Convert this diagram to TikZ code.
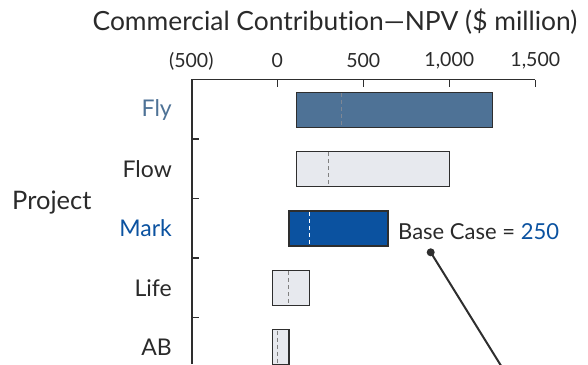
\documentclass[tikz,border=0pt]{standalone}
\usepackage{fontspec}
\setmainfont{Lato}[Ligatures={TeX,NoCommon}]
\usetikzlibrary{calc}
\definecolor{FlyClr}{HTML}{4E7296}
\definecolor{MarkClr}{HTML}{0B52A0}
\definecolor{PaleClr}{HTML}{E7E9EE}
\definecolor{EdgeClr}{HTML}{2E2E2E}
\definecolor{TextClr}{HTML}{2A2A2A}
\definecolor{DashClr}{HTML}{7D8795}

\begin{document}
\begin{tikzpicture}[x=1pt,y=-1pt,
  axisline/.style={line width=1.2pt,color=EdgeClr},
  barbox/.style={draw=EdgeClr,line width=1.2pt},
  midline/.style={line width=1pt,dash pattern=on 4pt off 3pt},
  ticklbl/.style={font=\fontsize{19.5}{19.5}\selectfont,text=TextClr,inner sep=0pt},
  projlbl/.style={font=\fontsize{23}{23}\selectfont,anchor=east,inner sep=0pt}]
\clip (0,0) rectangle (588,364);

% title
\node[font=\fontsize{26.4}{26.4}\selectfont,text=TextClr,inner sep=0pt] (title) at (335,22)
  {Commercial Contribution---NPV (\$ million)};
\node[font=\fontsize{25.5}{25.5}\selectfont,text=TextClr,inner sep=0pt,anchor=west] (project) at (12,203) {Project};

% axes
\draw[axisline] (192,364) -- (192,79.5) -- (535,79.5);
\foreach \v/\lbl in {-500/(500),0/0,500/500,1000/{1,000},1500/{1,500}}{
  \draw[axisline] (277.3+0.172*\v,79.5) -- ++(0,7.5);
  \node[ticklbl] (tick\v) at (277.3+0.172*\v,61) {\lbl};
}
\foreach \y in {139,198.5,258,317.5}
  \draw[axisline] (192,\y) -- ++(7,0);

% bars: name/row/low/high/base/fill/dash/label colour
\foreach \nm/\r/\lo/\hi/\bs/\fc/\dc/\tc in {
    Fly/0/113/1250/374/FlyClr/DashClr/FlyClr,
    Flow/1/113/1000/298/PaleClr/gray/TextClr,
    Mark/2/68/643/186/MarkClr/white/MarkClr,
    Life/3/-29/189/66/PaleClr/gray/TextClr,
    AB/4/-29/68/4/PaleClr/gray/TextClr}{
  \draw[barbox,fill=\fc] (277.3+0.172*\lo,92.2+59.4*\r) rectangle (277.3+0.172*\hi,127.2+59.4*\r);
  \draw[midline,draw=\dc] (277.3+0.172*\bs,93+59.4*\r) -- (277.3+0.172*\bs,126.4+59.4*\r);
  \node[projlbl,text=\tc] (lbl\nm) at (172,109.7+59.4*\r) {\nm};
}

% base case callout
\node[font=\fontsize{22}{22}\selectfont,text=TextClr,anchor=west,inner sep=0pt] (base) at (398,232)
  {Base Case = \textcolor{MarkClr}{250}};
\fill[EdgeClr] (430.7,252.3) circle (4pt) coordinate (dot);
\coordinate (far) at ($(dot)+(93,150)$);
\draw[line width=2pt,EdgeClr] (dot) -- (far);
\end{tikzpicture}
\end{document}
